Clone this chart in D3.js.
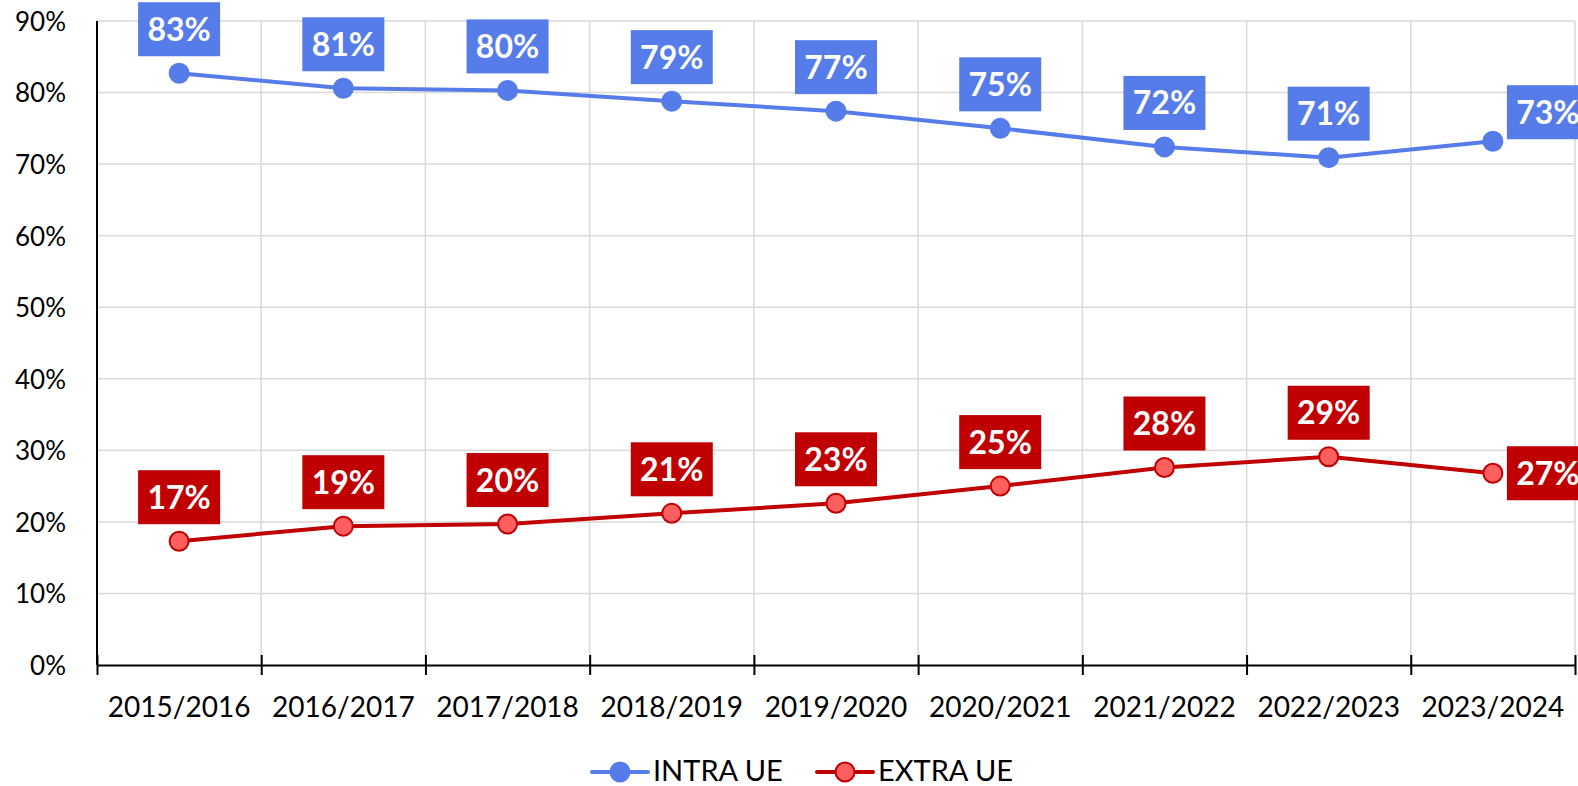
<!DOCTYPE html>
<html>
<head>
<meta charset="utf-8">
<script src="https://cdn.jsdelivr.net/npm/d3@7"></script>
<style>
  body { margin: 0; background: #fff; }
  svg { display: block; }
  svg text { font-family: Lato, "Open Sans", sans-serif; }
  .grid line { stroke: #d9d9d9; stroke-width: 1.5; }
  .ylab text { font-size: 26px; fill: #000; }
  .xlab text { font-size: 28px; fill: #000; }
  .lbl text { font-size: 32px; font-weight: bold; fill: #fff; }
  .legend text { font-size: 29px; fill: #000; }
</style>
</head>
<body>
<div id="chart"></div>
<script>
// chart data
var years = ["2015/2016", "2016/2017", "2017/2018", "2018/2019", "2019/2020",
             "2020/2021", "2021/2022", "2022/2023", "2023/2024"];
var intraUE = [82.7, 80.6, 80.3, 78.8, 77.4, 75.0, 72.4, 70.9, 73.2];
var extraUE = [17.3, 19.4, 19.7, 21.2, 22.6, 25.0, 27.6, 29.1, 26.8];
var yTicks = [0, 10, 20, 30, 40, 50, 60, 70, 80, 90];
var seriesNames = ["INTRA UE", "EXTRA UE"];

var width = 1578, height = 786;
var plotLeft = 97, plotRight = 1575, plotTop = 21, plotBottom = 665;

var series = [
  { name: seriesNames[0], values: intraUE, line: "#557ce8", fill: "#557ce8", stroke: "#557ce8", box: "#557ce8", lastDy: -29 },
  { name: seriesNames[1], values: extraUE, line: "#c00000", fill: "#ff5f5f", stroke: "#c00000", box: "#c00000", lastDy: 0 }
];

var svg = d3.select("#chart").append("svg")
    .attr("width", width)
    .attr("height", height);

var x = d3.scaleBand().domain(years).range([plotLeft, plotRight]).padding(0);
var xEdge = d3.scaleLinear().domain([0, years.length]).range([plotLeft, plotRight]);
var y = d3.scaleLinear().domain([0, 90]).range([plotBottom, plotTop]);

// gridlines
var grid = svg.append("g").attr("class", "grid");
grid.selectAll(".h").data(yTicks.slice(1)).enter().append("line")
    .attr("x1", plotLeft).attr("x2", plotRight)
    .attr("y1", d => y(d)).attr("y2", d => y(d));
grid.selectAll(".v").data(d3.range(1, years.length + 1)).enter().append("line")
    .attr("x1", d => xEdge(d)).attr("x2", d => xEdge(d))
    .attr("y1", plotTop).attr("y2", plotBottom);

// y axis
var yAxis = svg.append("g").attr("class", "ylab")
    .attr("transform", "translate(" + plotLeft + ",0)")
    .call(d3.axisLeft(y).tickValues(yTicks).tickSize(0).tickPadding(31).tickFormat(d => d + "%"));
yAxis.select(".domain").remove();
yAxis.selectAll("text").attr("dy", "0.36em");
svg.append("line")
    .attr("x1", plotLeft).attr("x2", plotLeft)
    .attr("y1", plotTop).attr("y2", plotBottom)
    .attr("stroke", "#000").attr("stroke-width", 2);

// x axis: line + ticks at band edges, labels at centres
var xTicks = svg.append("g")
    .attr("transform", "translate(0," + plotBottom + ")")
    .call(d3.axisBottom(xEdge).tickValues(d3.range(0, years.length + 1)).tickSize(10).tickSizeOuter(0).tickFormat(""));
xTicks.select(".domain").attr("stroke", "#000").attr("stroke-width", 2);
xTicks.selectAll(".tick line").attr("y1", -10).attr("y2", 10).attr("stroke", "#000").attr("stroke-width", 2);

var xAxis = svg.append("g").attr("class", "xlab")
    .attr("transform", "translate(0," + plotBottom + ")")
    .call(d3.axisBottom(x).tickSize(0).tickPadding(32));
xAxis.select(".domain").remove();

// lines and markers
var line = d3.line()
    .x((d, i) => x(years[i]) + x.bandwidth() / 2)
    .y(d => y(d));

series.forEach(function (s) {
  svg.append("path")
      .datum(s.values)
      .attr("fill", "none")
      .attr("stroke", s.line)
      .attr("stroke-width", 4)
      .attr("stroke-linejoin", "round")
      .attr("d", line);

  svg.append("g").selectAll("circle")
      .data(s.values)
      .enter().append("circle")
      .attr("cx", (d, i) => x(years[i]) + x.bandwidth() / 2)
      .attr("cy", d => y(d))
      .attr("r", 9.5)
      .attr("fill", s.fill)
      .attr("stroke", s.stroke)
      .attr("stroke-width", 2);
});

// data labels
var boxW = 82, boxH = 54;
series.forEach(function (s) {
  var g = svg.append("g").attr("class", "lbl");
  var items = g.selectAll("g")
      .data(s.values)
      .enter().append("g")
      .attr("transform", function (d, i) {
        var cx = x(years[i]) + x.bandwidth() / 2, cy = y(d);
        if (i === s.values.length - 1) {
          // last point: label sits to the right
          return "translate(" + (cx + 14) + "," + (cy + s.lastDy - boxH / 2) + ")";
        }
        return "translate(" + (cx - boxW / 2) + "," + (cy - 17 - boxH) + ")";
      });
  items.append("rect")
      .attr("width", boxW)
      .attr("height", boxH)
      .attr("fill", s.box);
  items.append("text")
      .attr("x", boxW / 2)
      .attr("y", boxH / 2)
      .attr("dy", "0.36em")
      .attr("text-anchor", "middle")
      .text(d => Math.round(d) + "%");
});

// legend
var legendX = [592, 817];
var legend = svg.append("g").attr("class", "legend");
series.forEach(function (s, i) {
  var lg = legend.append("g").attr("transform", "translate(" + legendX[i] + ",772)");
  lg.append("line")
      .attr("x1", 0).attr("x2", 56)
      .attr("stroke", s.line).attr("stroke-width", 4).attr("stroke-linecap", "round");
  lg.append("circle")
      .attr("cx", 28).attr("r", 9.5)
      .attr("fill", s.fill).attr("stroke", s.stroke).attr("stroke-width", 2);
  lg.append("text")
      .attr("x", 61)
      .attr("y", 9)
      .text(s.name);
});
</script>
</body>
</html>
